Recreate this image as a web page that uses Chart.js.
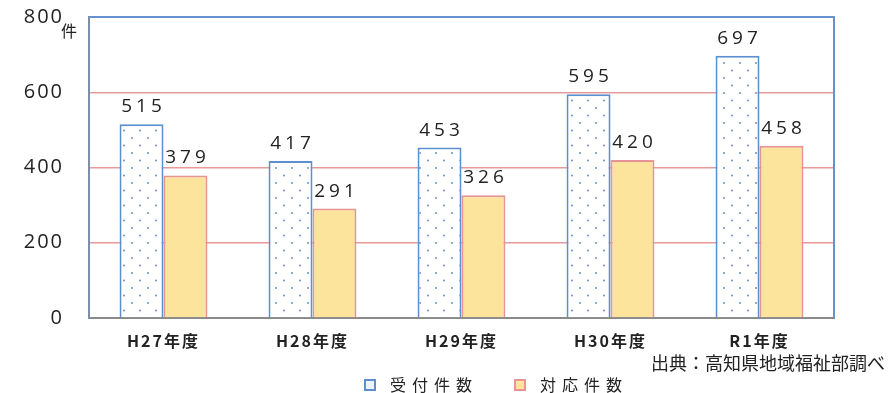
<!DOCTYPE html>
<html><head><meta charset="utf-8">
<script src="https://cdn.jsdelivr.net/npm/chart.js@4/dist/chart.umd.min.js"></script>
<style>html,body{margin:0;padding:0;background:#fff;}#wrap{width:888px;height:393px;position:relative;}</style>
</head><body><div id="wrap"><canvas id="c" width="888" height="393"></canvas></div>
<script>
const categories = ["H27年度","H28年度","H29年度","H30年度","R1年度"];
const received = [515, 417, 453, 595, 697];
const handled = [379, 291, 326, 420, 458];
const seriesNames = ["受付件数","対応件数"];
const yTicks = [0, 200, 400, 600, 800];
const unitLabel = "件";
const sourceText = "出典：高知県地域福祉部調べ";

const JP = "'Noto Sans CJK JP','Noto Sans',sans-serif";
const NUM = "'Open Sans','DejaVu Sans',sans-serif";

function dotPattern(){
  const t = document.createElement('canvas');
  t.width = 16; t.height = 15;
  const g = t.getContext('2d');
  g.fillStyle = '#ffffff'; g.fillRect(0,0,16,15);
  g.fillStyle = '#5a86c4';
  [[4,3],[12,10.5]].forEach(([x,y])=>{g.beginPath();g.arc(x,y,0.9,0,Math.PI*2);g.fill();});
  return document.getElementById('c').getContext('2d').createPattern(t,'repeat');
}

const labelPlugin = {
  id:'labels',
  beforeDraw(chart){ try{chart.ctx.letterSpacing='2px';}catch(e){} },
  beforeDatasetsDraw(chart){ try{chart.ctx.letterSpacing='0px';}catch(e){} },
  afterDatasetsDraw(chart){
    const ctx = chart.ctx;
    ctx.save();
    ctx.font = "19px " + NUM;
    ctx.fillStyle = '#222';
    ctx.textAlign = 'center';
    ctx.textBaseline = 'alphabetic';
    try{ctx.letterSpacing='4px';}catch(e){}
    chart.data.datasets.forEach((ds,i)=>{
      chart.getDatasetMeta(i).data.forEach((bar,j)=>{
        ctx.fillText(String(ds.data[j]), bar.x+2, bar.y-12);
      });
    });
    ctx.restore();
  },
  afterDraw(chart){
    const ctx = chart.ctx, a = chart.chartArea;
    ctx.save();
    try{ctx.letterSpacing='0px';}catch(e){}
    // top & right border
    ctx.strokeStyle = '#6593cf'; ctx.lineWidth = 2;
    ctx.beginPath(); ctx.moveTo(a.left, a.top); ctx.lineTo(a.right, a.top); ctx.lineTo(a.right, a.bottom); ctx.stroke();
    // unit label
    ctx.fillStyle = '#222';
    ctx.font = "16px " + JP;
    ctx.textAlign = 'left'; ctx.textBaseline = 'middle';
    ctx.fillText(unitLabel, 61, 31);
    // source
    ctx.textAlign = 'right';
    ctx.font = "18px " + JP;
    ctx.fillText(sourceText, 885, 363);
    // legend
    const starts = [365, 515];
    ctx.font = "16px " + JP;
    try{ctx.letterSpacing='6px';}catch(e){}
    chart.data.datasets.forEach((ds,i)=>{
      const x = starts[i], y = 385;
      ctx.fillStyle = i===0 ? '#eef3fb' : ds.backgroundColor;
      ctx.fillRect(x, y-5, 10, 10);
      ctx.strokeStyle = ds.borderColor; ctx.lineWidth = 2;
      ctx.strokeRect(x, y-5, 10, 10);
      ctx.fillStyle = '#222';
      ctx.textAlign = 'left';
      ctx.fillText(ds.label, x+25, y);
    });
    ctx.restore();
  }
};

new Chart(document.getElementById('c'), {
  type:'bar',
  data:{
    labels: categories,
    datasets:[
      {label:seriesNames[0], data:received, backgroundColor:dotPattern(), borderColor:'#5b8fd0', borderWidth:2, borderSkipped:'bottom'},
      {label:seriesNames[1], data:handled, backgroundColor:'#fde49c', borderColor:'#e89494', borderWidth:2, borderSkipped:'bottom'}
    ]
  },
  options:{
    responsive:false, animation:false, devicePixelRatio:1,
    layout:{padding:{top:17,right:54,left:0,bottom:0}},
    datasets:{bar:{categoryPercentage:0.59, barPercentage:1.0}},
    plugins:{
      legend:{display:false},
      tooltip:{enabled:false}
    },
    scales:{
      x:{
        grid:{display:false, drawTicks:false},
        border:{color:'#8a8a8a', width:2},
        ticks:{font:{family:JP,size:16,weight:'bold'}, color:'#222', padding:13},
        afterFit(s){ s.height = 75; s.paddingLeft = 0; s.paddingRight = 0; }
      },
      y:{
        min:0, max:800,
        afterBuildTicks(s){ s.ticks = yTicks.map(v=>({value:v})); },
        grid:{color:(c)=> (c.tick && (c.tick.value===0||c.tick.value===800)) ? 'rgba(0,0,0,0)' : '#e89a9a', lineWidth:1.5, drawTicks:false},
        border:{color:'#7d8ea8', width:2},
        ticks:{font:{family:NUM,size:20}, color:'#222', padding:25},
        afterFit(s){ s.width = 89; s.paddingTop = 0; s.paddingBottom = 0; }
      }
    }
  },
  plugins:[labelPlugin]
});
</script></body></html>
